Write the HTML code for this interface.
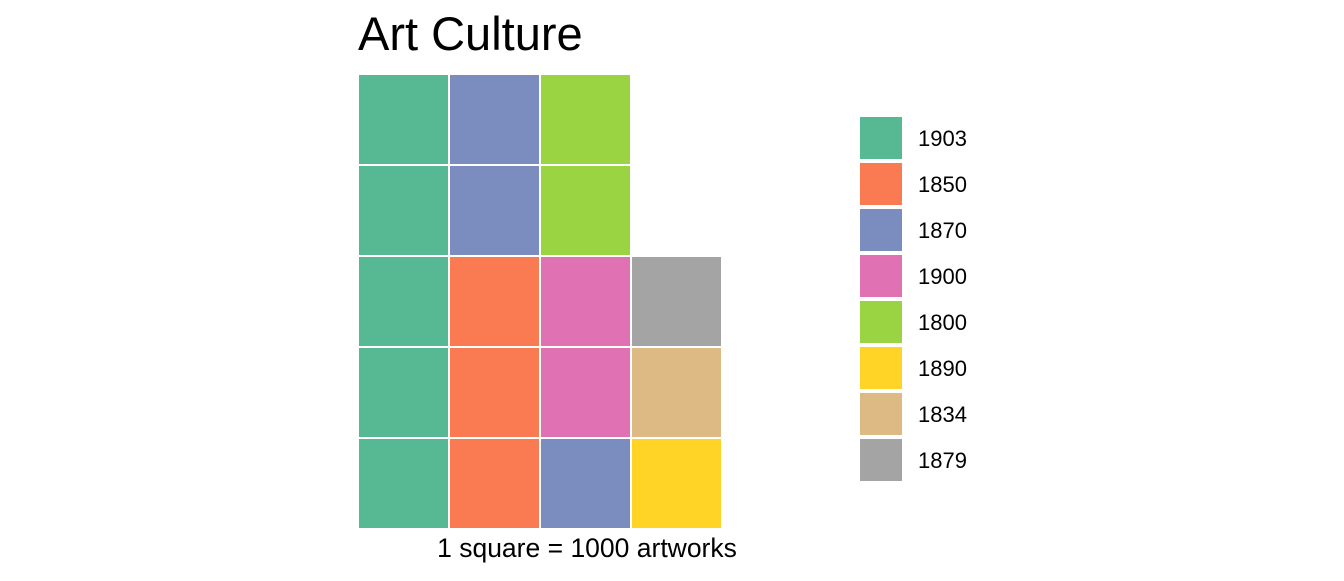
<!DOCTYPE html>
<html><head><meta charset="utf-8"><style>
body{margin:0;background:#fff;font-family:"Liberation Sans",Arial,sans-serif}
</style></head><body>
<svg id="chart" width="1344" height="576" xmlns="http://www.w3.org/2000/svg">
<rect width="1344" height="576" fill="#fff"/>
<text x="358" y="50" font-size="47" fill="#000">Art Culture</text>
<g id="cells"></g>
<g id="legend"></g>
<text x="587" y="557" font-size="26.5" text-anchor="middle" fill="#000">1 square = 1000 artworks</text>
</svg>
<script>
const categories = ["1903","1850","1870","1900","1800","1890","1834","1879"];
const counts = [5,3,3,2,2,1,1,1];
const colors = ["#57b994","#fa7a52","#7b8dbf","#e072b4","#9bd443","#ffd426","#ddb983","#a4a4a4"];
const nRows = 5;
const ns = "http://www.w3.org/2000/svg";
const gx = 358, gBottom = 529, pitch = 91, size = 89;
const cells = document.getElementById('cells');
let idx = 0;
categories.forEach((c, ci) => {
  for (let k = 0; k < counts[ci]; k++) {
    const col = Math.floor(idx / nRows), row = idx % nRows;
    const r = document.createElementNS(ns, 'rect');
    r.setAttribute('x', gx + col * pitch + 1);
    r.setAttribute('y', gBottom - (row + 1) * pitch + 1);
    r.setAttribute('width', size);
    r.setAttribute('height', size);
    r.setAttribute('fill', colors[ci]);
    
    
    cells.appendChild(r);
    idx++;
  }
});
const legend = document.getElementById('legend');
categories.forEach((c, i) => {
  const y = 117 + i * 46;
  const r = document.createElementNS(ns, 'rect');
  r.setAttribute('x', 860); r.setAttribute('y', y);
  r.setAttribute('width', 42); r.setAttribute('height', 42);
  r.setAttribute('fill', colors[i]);
  
  
  legend.appendChild(r);
  const t = document.createElementNS(ns, 'text');
  t.setAttribute('x', 918); t.setAttribute('y', y + 29);
  t.setAttribute('font-size', '22');
  t.textContent = c;
  
  
  legend.appendChild(t);
});
</script>
</body></html>
